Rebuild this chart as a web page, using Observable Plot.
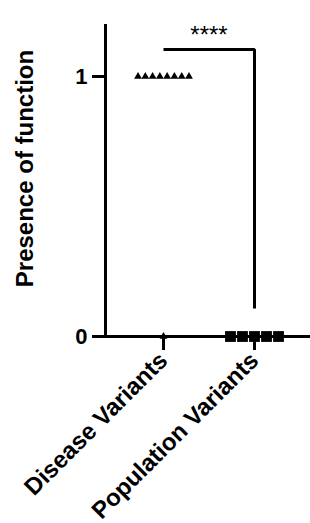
<!DOCTYPE html>
<html>
<head>
<meta charset="utf-8">
<script src="https://cdn.jsdelivr.net/npm/d3@7"></script>
<script src="https://cdn.jsdelivr.net/npm/@observablehq/plot@0.6"></script>
<style>
  html, body { margin: 0; padding: 0; background: #fff; }
  #chart svg { display: block; }
</style>
</head>
<body>
<div id="chart"></div>
<script>
// ---- data ----
const categories = ["Disease Variants", "Population Variants"];
const diseaseValues = [1, 1, 1, 1, 1, 1, 1, 1, 0];
const populationValues = [0, 0, 0, 0, 0];
const yTicks = [0, 1];
const yLabel = "Presence of function";
const significance = "****";
const bracketTop = 1.104;
const bracketBottom = 0.108;

// ---- build point tables (column scatter, spread around category position) ----
function spread(cat, values, step) {
  const out = [];
  for (const [v, arr] of d3.group(values, v => v)) {
    const n = arr.length;
    arr.forEach((_, i) => out.push({x: cat + (i - (n - 1) / 2) * step, y: v}));
  }
  return out;
}
const diseasePoints = spread(1, diseaseValues, 0.08);
const populationPoints = spread(2, populationValues, 0.132);
const bracket = [
  {x: 1, y: bracketTop},
  {x: 2, y: bracketTop},
  {x: 2, y: bracketBottom}
];

const font = "'Liberation Sans', Arial, Helvetica, sans-serif";
const xDomain = [0.3626, 2.6154];
const yDomain = [0, 1.2];

const chart = Plot.plot({
  width: 310,
  height: 523,
  marginLeft: 105,
  marginRight: 0,
  marginTop: 24,
  marginBottom: 187,
  style: {fontFamily: font, background: "#fff", color: "#000"},
  x: {domain: xDomain, axis: null},
  y: {domain: yDomain, axis: null},
  marks: [
    Plot.axisY({
      ticks: yTicks, tickFormat: d => String(d), tickSize: 13, tickPadding: 5, strokeWidth: 3,
      fontSize: 22, fontWeight: "bold", label: null
    }),
    Plot.axisX({
      ticks: [1, 2], tickFormat: i => categories[i - 1],
      tickSize: 14, strokeWidth: 3, tickRotate: -45,
      textAnchor: "end", lineAnchor: "middle",
      fontSize: 24, fontWeight: "bold", label: null, tickPadding: 6
    }),
    Plot.ruleX([xDomain[0]], {y1: 0, y2: yDomain[1], strokeWidth: 3}),
    Plot.ruleY([0], {strokeWidth: 3}),
    Plot.line(bracket, {x: "x", y: "y", strokeWidth: 3, strokeLinejoin: "miter", strokeLinecap: "butt"}),
    Plot.text([significance], {x: 1.5, y: 1.16, fontSize: 24, lineAnchor: "middle"}),
    Plot.dot(diseasePoints, {x: "x", y: "y", symbol: "triangle", r: 2.9, fill: "#000", stroke: "none"}),
    Plot.dot(populationPoints, {x: "x", y: "y", symbol: "square", r: 6.1, fill: "#000", stroke: "none"}),
    Plot.text([yLabel], {frameAnchor: "left", textAnchor: "middle", rotate: -90, dx: -80, dy: -12, fontSize: 24, fontWeight: "bold"})
  ]
});
document.getElementById("chart").appendChild(chart);
</script>
</body>
</html>
